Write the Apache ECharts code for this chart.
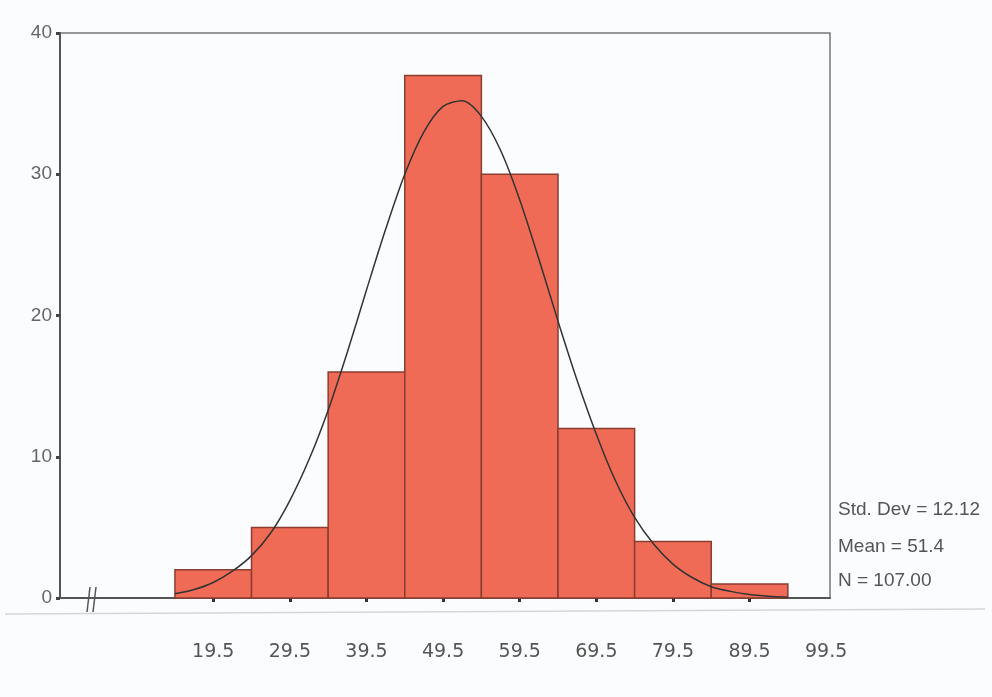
<!DOCTYPE html>
<html>
<head>
    <meta charset="UTF-8">
    <title>Histogram</title>
    <script type="text/javascript" src="https://cdn.jsdelivr.net/npm/echarts@6/dist/echarts.min.js"></script>
</head>
<style type="text/css">
html, body { margin: 0; padding: 0; background: #fafcfd; }
#chart { width: 992px; height: 697px; }
</style>
<body>
    <div id="chart"></div>
</body>
</html>

<script type="text/javascript">
// histogram bins (centre of each bin) and counts
var binCenters = [19.5, 29.5, 39.5, 49.5, 59.5, 69.5, 79.5, 89.5];
var binCounts = [2, 5, 16, 37, 30, 12, 4, 1];
var binWidth = 10;

// normal curve
var curveX = [14.5, 17, 19.5, 22, 24.5, 27, 29.5, 32, 34.5, 37, 39.5, 42, 44.5, 47, 49.5, 52,
              54.5, 57, 59.5, 62, 64.5, 67, 69.5, 72, 74.5, 77, 79.5, 82, 84.5, 87, 89.5, 92, 94.5];
var curveY = [0.3, 0.6, 1.1, 1.9, 3.0, 4.6, 6.9, 9.8, 13.3, 17.4, 21.8, 26.1, 30.0, 33.0, 34.8, 35.2,
              34.1, 31.7, 28.2, 24.0, 19.6, 15.4, 11.6, 8.3, 5.7, 3.8, 2.4, 1.45, 0.8, 0.47, 0.25, 0.13, 0.06];

// axis labels
var xTickLabels = [19.5, 29.5, 39.5, 49.5, 59.5, 69.5, 79.5, 89.5, 99.5];
var xTickMarks = [19.5, 29.5, 39.5, 49.5, 59.5, 69.5, 79.5, 89.5];
var statLines = ['Std. Dev = 12.12', 'Mean = 51.4', 'N = 107.00'];

var barData = binCenters.map(function (c, i) { return [c, binCounts[i]]; });
var curveData = curveX.map(function (x, i) { return [x, curveY[i]]; });

var myChart = echarts.init(document.getElementById('chart'));

var statTop = [500, 537, 571];
var graphics = statLines.map(function (t, i) {
    return {
        type: 'text', left: 838, top: statTop[i],
        style: { text: t, fill: '#555', font: '19px "Liberation Sans", Arial, sans-serif' }
    };
});
// scan fold line under the axis
graphics.push({
    type: 'line', silent: true,
    shape: { x1: 5, y1: 614, x2: 985, y2: 609 },
    style: { stroke: '#d3d7da', lineWidth: 1.5 }
});
// axis break marks
graphics.push({
    type: 'line', shape: { x1: 87, y1: 612, x2: 90, y2: 587 },
    style: { stroke: '#555', lineWidth: 1.5 }
});
graphics.push({
    type: 'line', shape: { x1: 93, y1: 612, x2: 96, y2: 587 },
    style: { stroke: '#555', lineWidth: 1.5 }
});

var option = {
    backgroundColor: '#fafcfd',
    animation: false,
    grid: {
        left: 60, top: 33, right: 162, bottom: 99,
        show: true, borderColor: '#777', borderWidth: 1.5
    },
    xAxis: {
        type: 'value',
        min: -0.5,
        max: 100,
        splitLine: { show: false },
        axisLine: { show: true, onZero: false, lineStyle: { color: '#555', width: 2 } },
        axisTick: { show: true, customValues: xTickMarks, length: 4, lineStyle: { color: '#333', width: 3 } },
        axisLabel: {
            customValues: xTickLabels,
            margin: 45,
            color: '#555',
            fontSize: 19,
            fontFamily: '"DejaVu Sans", Verdana, sans-serif'
        }
    },
    yAxis: {
        type: 'value',
        min: 0,
        max: 40,
        interval: 10,
        splitLine: { show: false },
        axisLine: { show: true, onZero: false, lineStyle: { color: '#555', width: 2 } },
        axisTick: { show: true, length: 4, lineStyle: { color: '#444', width: 3 } },
        axisLabel: {
            margin: 8,
            color: '#666',
            fontSize: 19,
            fontFamily: '"Liberation Sans", Arial, sans-serif'
        }
    },
    series: [{
        type: 'custom',
        data: barData,
        renderItem: function (params, api) {
            var c = api.value(0);
            var lo = api.coord([c - binWidth / 2, api.value(1)]);
            var hi = api.coord([c + binWidth / 2, 0]);
            return {
                type: 'rect',
                shape: { x: lo[0], y: lo[1], width: hi[0] - lo[0], height: hi[1] - lo[1] },
                style: { fill: '#ef6b55', stroke: '#8a3d31', lineWidth: 1.5 }
            };
        }
    }, {
        type: 'line',
        data: curveData,
        smooth: 0.3,
        showSymbol: false,
        lineStyle: { color: '#333', width: 1.5 },
        z: 3
    }],
    graphic: graphics
};

myChart.setOption(option);
</script>
